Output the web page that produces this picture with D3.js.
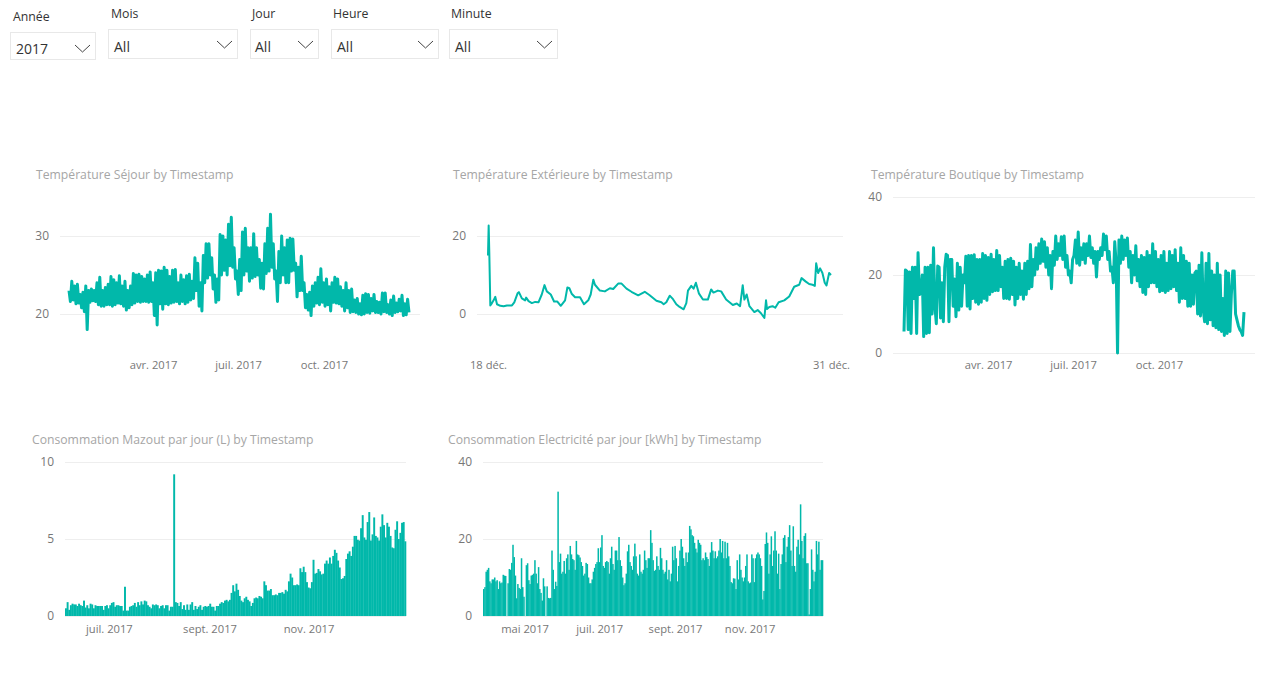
<!DOCTYPE html>
<html>
<head>
<meta charset="utf-8">
<script src="https://cdn.jsdelivr.net/npm/d3@7"></script>
<style>
  html, body { margin: 0; padding: 0; background: #fff; overflow: hidden; }
  text { font-family: "Open Sans", sans-serif; }
  .title { font-size: 12.2px; fill: #a6a6a6; }
  .grid .tick text { font-size: 12px; fill: #777; }
  .time .tick text { font-size: 11.2px; fill: #777; }
  .grid .tick line { stroke: #eee; }
  .slicer-label { font-size: 12.3px; fill: #333; }
  .slicer-value { font-size: 14px; fill: #333; }
</style>
</head>
<body>
<div id="chart"></div>
<script>
var slicerLabels = ['Année', 'Mois', 'Jour', 'Heure', 'Minute'];
var slicerValues = ['2017', 'All', 'All', 'All', 'All'];

// Température Séjour, high and low of each 3 day stretch of 2017
var sejourValues = [23,21.6,24.2,21.8,23.6,21.3,23.8,21.4,22.5,20.8,22.8,20.3,23.6,18,23,21.5,23.2,21.7,23,21.6,
  24,21.2,24.7,21,23,21,23.4,21.2,23.8,21.2,24.8,21,24.4,21.2,24,21.4,24.9,21.3,23.6,21,
  24.2,20.5,23,20.8,23.6,21.2,25.2,21.4,25,21.6,25.1,21.5,24.8,21.6,24.5,21.6,25,21.5,25.4,21.6,
  24,19.8,25.3,18.6,25.6,21.3,25.5,20.6,26,21.3,25.6,21.2,24.8,21.4,25.6,21.5,25.7,21.6,24,21.3,
  25,21.6,24.4,21.3,24.9,21.5,25.1,21.8,24.2,22,27.2,23,26.5,21,24,20.4,27.5,24,29,24.6,
  29,25,27.2,23.2,25,21.5,24.5,21.8,30.2,25,30,25.6,29.5,25,31.5,26.2,32.4,26,28.5,24.5,
  25.5,22.5,27,23,30.5,25,31,25.5,28.5,24.2,28.5,24.6,30.3,24.8,28.5,25,27,23.3,26.5,23.2,
  29,25.2,31,25.5,32.8,26,29,24.5,25.5,21.6,28,24,30,25,28.5,24,29.5,24,29.7,25.5,
  29.6,25.6,26.5,22.2,26,23,27.4,23,24,20.8,22.5,20.5,22.8,19.8,23.6,21,24,21.4,24.7,21.2,
  25.8,21.5,24,21,24.5,21.2,23.5,20.4,24,21.5,24.7,21.4,24.5,21.3,23.5,21,23,20.4,24,20.8,
  23,20.2,23.2,20.3,21.8,20.2,22,20,21.3,19.9,22.4,20,22.6,20.2,22.5,20.1,22,20.4,22.5,20.2,
  21.6,20.2,21.5,20,22.7,20.3,22.7,20.2,21.2,20,21.8,19.8,22.3,20.2,21.4,20.3,21.9,20.4,22.4,19.8,
  21.3,19.9,21.9,20.2];

// Température Extérieure, hours since 18 déc. and reading
var exterieurHours = [0,0.6,1.2,2.1,3.6,5.1,6.6,8.2,11.2,14.2,17.2,21.8,23.9,26.9,28.1,30.8,33.8,34.7,36.9,39.9,
  42.9,45.9,48.9,51.4,53.5,57.1,60.1,63.1,66.2,70.1,72.2,74,76.1,79.2,83.7,87.3,91.2,93.4,95.8,97.3,
  101.8,106.3,110.9,113.9,118.4,121.5,126,130.5,136.6,142.6,147.1,153.2,157.7,159.8,162.2,165.3,168.3,171.3,174.3,177.9,
  180.4,181.9,184.9,187,189.1,191.8,195.5,200,203,205.1,209.1,212.1,216.6,222.7,226.3,229.3,231.7,233.2,235.3,237.8,
  242.3,245.3,248.3,251.4,252.9,253.8,255.9,258.9,261.3,264.4,269.5,274,278.5,283.1,285.2,289.1,292.1,295.2,297.3,298.5,
  300.3,302.1,304.2,306.3,307.9,310.3,312];
var exterieurValues = [15,22.7,15.5,2.2,2.8,3.5,4.4,2.5,2.1,2,2.2,2.2,3,5.3,5.6,4,3.5,4.2,3.3,2.8,
  3.1,3,5,7.4,5.8,5,3.2,3.2,2.1,3.5,6.8,6.6,5.2,4.3,4.3,2.5,3.5,5,8.8,7.5,
  6,5.8,6.6,6.4,7.8,7.8,6.5,5.7,4.8,5.7,4.8,3.4,3,2.5,3,4.7,3.8,2.5,1.8,1.2,
  2.8,6,7.2,6.5,8,5.3,3.7,3.7,6.3,5.5,6,5.8,3.7,2.3,2.7,2,7.4,3.7,5,2,
  0.5,1,0.2,-1,3.5,1.3,1.8,2,1.6,3,3.5,4.5,7,7.5,9.2,8.3,7.7,7.5,7.2,13,
  10.5,11.7,10.5,8,7.3,10.5,10];

// Température Boutique, alternating peaks and troughs across 2017
var boutiqueValues = [5.5,21.3,21,6,20.8,5,22,14,22,5,25.7,15,15.5,20,4.2,22,5,22,5.2,22.5,
  10,27,12,7.5,22.3,22,9,18,8,22,25.3,25,8,24,24,12,19,9.3,23,11,
  22,12,20,18,24.8,12,25,11.3,25,14,25.2,13,24,12.5,24,13,25.5,14,25,13.5,
  24.5,15,25.3,15.7,24,16,26.3,16,25,17,22,14,23.5,14,24,13.8,24.3,15,23.5,12.3,
  22,14,23,15,21,13.8,23,15,23.5,16.5,27.8,17,24,20,27,21.5,28,23,29.2,23.5,
  28.5,22,27,20,25,16.5,26,22.5,30,24,28,25,29.8,24,30,22,25,20,21,18,
  24,25,29,23,31,22.5,27,24,28,23,28,25,30,24.5,27,23,26,19.5,26,24,
  27,25,30.5,26.5,30,24,26,21,22,18,28.5,23,0,29,23,30,24,29,25,29.5,
  22,26,18,25,20,27.5,18.5,24,17,25,15.5,24.5,15,26,17,25,18,28,18,26,
  17,24,15.7,25,16,26,15.5,23,16,26,16.5,25,17,26.5,16,23,13,27,14,25,
  14,23.5,12,23,12,20,12.5,20.5,21,10,22.5,9.5,25.7,11,8,23,7.5,25.5,8.5,21,
  7,20,6.5,23,6,20,5.5,14,4.5,21,5,20.5,5.5,15,21,21,10,8.5,7,6,
  5.5,4.5,10.5];

// Consommation Mazout par jour, 4 juin to 31 déc.
var mazoutValues = [0.5,0.9,0.4,0.7,0.8,0.75,0.75,0.65,0.8,0.7,0.65,1,0.55,0.7,0.5,0.8,0.75,0.5,0.7,0.65,
  0.65,0.65,0.65,0.4,0.65,0.7,0.5,0.7,0.85,0.9,0.6,0.7,0.7,0.65,0.65,0.35,1.9,0.35,0.35,0.6,
  0.65,0.7,0.85,0.6,0.9,0.7,0.95,0.75,1,0.95,0.7,0.6,0.5,0.75,0.7,0.75,0.7,0.5,0.65,0.7,
  0.5,0.7,0.7,0.35,0.6,0.6,9.2,0.9,0.85,0.65,0.9,0.45,0.7,0.4,0.75,0.4,0.75,0.9,0.4,0.65,
  0.45,0.6,0.7,0.4,0.6,0.65,0.6,0.65,0.8,0.6,0.6,0.35,0.65,0.65,0.8,0.9,0.85,1,1.05,0.95,
  1.05,1.5,2,1.6,2.1,1.7,1.3,1,0.9,1.15,1.25,1.05,0.95,0.65,0.85,1.15,1.2,1.15,1.3,1.25,
  1.15,2.25,2,1.65,1.65,1.75,1.35,1.35,1.4,1.35,1.5,1.5,1.55,1.45,1.7,1.6,2.25,2.75,2.5,2,
  2,2.05,2,3.1,2.85,3.2,2.85,2.2,1.85,1.8,2.2,3.65,2.75,2.8,3.05,2.9,2.7,2.75,3.4,3.6,
  3.4,3.8,3.4,3.9,4.3,4.1,3.6,3.15,2.4,2.45,2.6,3.7,4.05,4.2,3.9,4.5,5.2,5.2,4.95,4.9,
  5.7,6.55,5.1,4.95,6.1,6.75,4.9,5.3,6.4,5.2,5.1,4.9,5.8,6.6,5.9,5.1,6.05,5.8,5.2,4.45,
  4.4,5.6,6.15,5,5.4,6.05,6.1,4.85];

// Consommation Electricité par jour, 28 mars to 31 déc.
var electriciteValues = [7,7.5,11.5,12,12.5,9,8.5,9.5,9.5,10,9,9.3,7,9,8.5,8.7,10.7,10.5,10.4,0,
  8.5,12.2,12,13.8,18.5,15.3,10.5,4.6,8.3,7.3,7,15,7.5,5,0,13.2,13.7,9.3,8.3,10.5,
  10.7,11,14.5,11,8.5,12.7,7,6,4,9.8,7.7,0,7.7,4.7,4.6,4.7,17,12,7,8.9,
  7.8,32.3,14,16.2,11,11.5,14.3,11,15,16,12,18.2,16,14.8,14.5,12,19.5,16,15.8,15.2,
  14,13,10.5,11,13.8,13.5,10,8.5,8.5,9.5,11.5,12.5,13.5,14,17.6,14,17.8,21,13,12.5,
  14,14.3,14,11,15,18,13.5,12,17,17,14.5,20.5,14.5,13,10,8,8.5,11,16.8,18.5,
  14,13,12,15.5,18.8,15.5,11,10.5,16,11.5,11,12,17,14.5,12.5,15,15,22.3,19,14.5,
  11.7,12,15.5,13,12,17.7,15,12,11,11.5,14.5,9.5,12,9,11,18,14.5,18.2,15,9,
  13,17,20,18,15,13,16.5,14,16.5,23.4,22.5,21,20.7,19,17.5,16.5,19.8,19,18.5,14.5,
  15,14.5,16.5,15.3,14.8,13,16.5,19.2,17,15,16.8,15,15.5,17,20,16.5,19.5,15,19.3,15,
  19,15.5,13,8.8,8.5,9.8,9.7,7,14.5,9.5,16,12,10,9,10,13,16,9,8.5,8.7,
  16,15,8.8,15,16,16.5,16,15,13,4.3,6.5,18.7,21.7,19,11,16,20.7,13,17,22,
  17,11,16.2,7,13.5,16,20.3,21,14,18,20.5,23.6,17,13,23.3,13,11.5,18,19.8,16,
  29,19.5,15,20.8,21.5,13.7,13.7,0.4,7,17.3,12,9,11.5,19.5,16,19.3,12,14.5,14.5];

var yearTicks = [new Date(2017, 3, 1), new Date(2017, 6, 1), new Date(2017, 9, 1)];
var yearLabels = ['avr. 2017', 'juil. 2017', 'oct. 2017'];
var decTicks = [new Date(2017, 11, 18), new Date(2017, 11, 31)];
var decLabels = ['18 déc.', '31 déc.'];
var mazoutTicks = [new Date(2017, 6, 1), new Date(2017, 8, 1), new Date(2017, 10, 1)];
var mazoutLabels = ['juil. 2017', 'sept. 2017', 'nov. 2017'];
var electriciteTicks = [new Date(2017, 4, 1), new Date(2017, 6, 1), new Date(2017, 8, 1), new Date(2017, 10, 1)];
var electriciteLabels = ['mai 2017', 'juil. 2017', 'sept. 2017', 'nov. 2017'];

var teal = '#01B8AA';

var svg = d3.select('#chart').append('svg')
  .attr('width', 1283)
  .attr('height', 683);

function drawSlicer(i, box, labelX, labelY, valueX, valueY, chevronX, chevronY) {
  svg.append('text').attr('class', 'slicer-label').attr('x', labelX).attr('y', labelY).text(slicerLabels[i]);
  svg.append('rect')
    .attr('x', box[0] + 0.5).attr('y', box[1] + 0.5)
    .attr('width', box[2]).attr('height', box[3])
    .attr('fill', '#fff').attr('stroke', '#e8e8e8');
  svg.append('text').attr('class', 'slicer-value').attr('x', valueX).attr('y', valueY).text(slicerValues[i]);
  svg.append('path')
    .attr('d', 'M' + chevronX + ',' + chevronY + 'l7.5,7l7.5,-7')
    .attr('fill', 'none').attr('stroke', '#444').attr('stroke-width', 1);
}

drawSlicer(0, [10, 32, 85, 27], 13, 21, 16, 54, 75, 45);
drawSlicer(1, [108, 29, 129, 29], 111, 18, 114, 52, 217, 41);
drawSlicer(2, [250, 29, 68, 29], 252, 18, 255, 52, 298, 41);
drawSlicer(3, [331, 29, 107, 29], 333, 18, 337, 52, 418, 41);
drawSlicer(4, [449, 29, 108, 29], 451, 18, 455, 52, 537, 41);

// title, horizontal gridlines and value labels are the same on every chart
function drawFrame(title, titleX, titleY, left, right, yScale, yTicks) {
  svg.append('text').attr('class', 'title').attr('x', titleX).attr('y', titleY).text(title);
  var grid = svg.append('g')
    .attr('class', 'grid')
    .attr('transform', 'translate(' + left + ',0)')
    .call(d3.axisLeft(yScale).tickValues(yTicks).tickFormat(d3.format('d')).tickSize(left - right).tickPadding(11));
  grid.select('.domain').remove();
}

function drawTimeAxis(xScale, ticks, labels, y) {
  var axis = svg.append('g')
    .attr('class', 'time')
    .attr('transform', 'translate(0,' + y + ')')
    .call(d3.axisBottom(xScale).tickValues(ticks).tickFormat(function (d, i) { return labels[i]; }).tickSize(0).tickPadding(0));
  axis.select('.domain').remove();
}

function drawLine(values, timeOf, xScale, yScale, width) {
  var line = d3.line()
    .x(function (d, i) { return xScale(timeOf(i)); })
    .y(function (d) { return yScale(d); })
    .curve(d3.curveLinear);
  svg.append('path')
    .datum(values)
    .attr('d', line)
    .attr('fill', 'none')
    .attr('stroke', teal)
    .attr('stroke-width', width)
    .attr('stroke-linejoin', 'round');
}

function drawBars(values, left, right, yScale) {
  var band = d3.scaleBand().domain(d3.range(values.length)).range([left, right]).padding(0);
  svg.append('g').selectAll('rect')
    .data(values)
    .enter().append('rect')
    .attr('x', function (d, i) { return band(i); })
    .attr('y', function (d) { return yScale(d); })
    .attr('width', band.bandwidth() + 0.3)
    .attr('height', function (d) { return yScale(0) - yScale(d); })
    .attr('fill', teal);
}

// even spacing over the domain of a time scale
function evenTime(xScale, n) {
  var d0 = xScale.domain()[0].getTime(), d1 = xScale.domain()[1].getTime();
  return function (i) { return new Date(d0 + (d1 - d0) * i / (n - 1)); };
}

// Température Séjour
var y1 = d3.scaleLinear().domain([20, 30]).range([314, 236]);
var x1 = d3.scaleTime().domain([new Date(2017, 0, 1), new Date(2017, 11, 31)]).range([69, 409]);
drawFrame('Température Séjour by Timestamp', 36, 179, 60, 420, y1, [20, 30]);
drawLine(sejourValues, evenTime(x1, sejourValues.length), x1, y1, 3);
drawTimeAxis(x1, yearTicks, yearLabels, 361);

// Température Extérieure
var y2 = d3.scaleLinear().domain([0, 20]).range([314, 236]);
var x2 = d3.scaleTime().domain([new Date(2017, 11, 18), new Date(2017, 11, 31)]).range([488, 831]);
drawFrame('Température Extérieure by Timestamp', 453, 179, 477, 843, y2, [0, 20]);
drawLine(exterieurValues, function (i) {
  return d3.timeMinute.offset(new Date(2017, 11, 18), exterieurHours[i] * 60);
}, x2, y2, 2);
drawTimeAxis(x2, decTicks, decLabels, 361);

// Température Boutique
var y3 = d3.scaleLinear().domain([0, 40]).range([353, 197]);
var x3 = d3.scaleTime().domain([new Date(2017, 0, 1), new Date(2017, 11, 31)]).range([904, 1244]);
drawFrame('Température Boutique by Timestamp', 871, 179, 893, 1255, y3, [0, 20, 40]);
drawLine(boutiqueValues, evenTime(x3, boutiqueValues.length), x3, y3, 3);
drawTimeAxis(x3, yearTicks, yearLabels, 361);

// Consommation Mazout
var y4 = d3.scaleLinear().domain([0, 10]).range([616, 462]);
var x4 = d3.scaleTime().domain([new Date(2017, 5, 4), new Date(2017, 11, 31)]).range([65, 406]);
drawFrame('Consommation Mazout par jour (L) by Timestamp', 32, 444, 65, 406, y4, [0, 5, 10]);
drawBars(mazoutValues, 65, 406, y4);
drawTimeAxis(x4, mazoutTicks, mazoutLabels, 625);

// Consommation Electricité
var y5 = d3.scaleLinear().domain([0, 40]).range([616, 462]);
var x5 = d3.scaleTime().domain([new Date(2017, 2, 28), new Date(2017, 11, 31)]).range([483, 823]);
drawFrame('Consommation Electricité par jour [kWh] by Timestamp', 448, 444, 483, 823, y5, [0, 20, 40]);
drawBars(electriciteValues, 483, 823, y5);
drawTimeAxis(x5, electriciteTicks, electriciteLabels, 625);
</script>
</body>
</html>
